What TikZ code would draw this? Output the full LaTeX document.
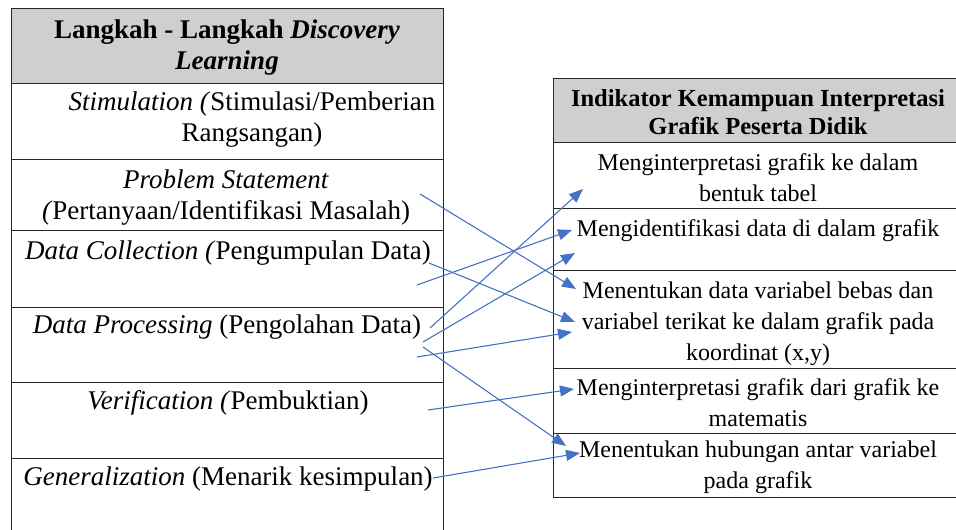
\documentclass[tikz,border=0pt]{standalone}
\usepackage{fontspec}
\setmainfont{Liberation Serif}
\usepackage{xcolor}
\usetikzlibrary{arrows.meta}
\definecolor{headgrey}{HTML}{D0CECE}
\definecolor{linkblue}{HTML}{4472C4}
\tikzset{
  lcell/.style={draw=black!85, line width=0.9pt, inner sep=0pt, minimum width=432pt},
  rcell/.style={draw=black!85, line width=0.9pt, inner sep=0pt, minimum width=410pt},
  ltext/.style={align=center, inner sep=0pt, font=\fontsize{27}{31}\selectfont},
  rtext/.style={align=center, inner sep=0pt, font=\fontsize{24}{31}\selectfont},
  rhtext/.style={align=center, inner sep=0pt, font=\fontsize{24.5}{28}\selectfont\bfseries},
  link/.style={linkblue, line width=1.1pt, -{Triangle[length=14pt,width=11pt]}}
}

\begin{document}
\begin{tikzpicture}[x=1pt,y=-1pt]
  \path[use as bounding box, clip] (0,0) rectangle (956,530);

  % left table: steps
  \node[lcell, fill=headgrey, minimum height=75pt] (lhead) at (227,45.5) {};
  \node[lcell, minimum height=76pt] (lstim) at (227,121) {};
  \node[lcell, minimum height=71pt] (lprob) at (227,194.5) {};
  \node[lcell, minimum height=77pt] (lcoll) at (227,268.5) {};
  \node[lcell, minimum height=75pt] (lproc) at (227,344.5) {};
  \node[lcell, minimum height=76pt] (lver) at (227,420) {};
  \node[lcell, minimum height=87pt] (lgen) at (227,501.5) {};

  \node[ltext, font=\fontsize{27}{31}\selectfont\bfseries] (thead) at (227,47.5)
    {Langkah - Langkah \textit{Discovery}\\\textit{Learning}};
  \node[ltext] (tstim) at (252,120) {\textit{Stimulation (}Stimulasi/Pemberian\\Rangsangan)};
  \node[ltext] (tprob) at (226,197.5) {\textit{Problem Statement}\\\textit{(}Pertanyaan/Identifikasi Masalah)};
  \node[ltext] (tcoll) at (228,253) {\textit{Data Collection (}Pengumpulan Data)};
  \node[ltext] (tproc) at (227,327) {\textit{Data Processing} (Pengolahan Data)};
  \node[ltext] (tver) at (228,403) {\textit{Verification (}Pembuktian)};
  \node[ltext] (tgen) at (228,479) {\textit{Generalization} (Menarik kesimpulan)};

  % right table: indicators
  \node[rcell, fill=headgrey, minimum height=64pt] (rhead) at (758,110) {};
  \node[rcell, minimum height=66pt] (rone) at (758,175) {};
  \node[rcell, minimum height=62pt] (rtwo) at (758,239) {};
  \node[rcell, minimum height=98pt] (rthree) at (758,319) {};
  \node[rcell, minimum height=65pt] (rfour) at (758,400.5) {};
  \node[rcell, minimum height=64pt] (rfive) at (758,465) {};

  \node[rhtext] (ihead) at (758,112) {Indikator Kemampuan Interpretasi\\Grafik Peserta Didik};
  \node[rtext] (ione) at (758,178) {Menginterpretasi grafik ke dalam\\bentuk tabel};
  \node[rtext] (itwo) at (758,231) {Mengidentifikasi data di dalam grafik};
  \node[rtext] (ithree) at (758,324) {Menentukan data variabel bebas dan\\variabel terikat ke dalam grafik pada\\koordinat (x,y)};
  \node[rtext] (ifour) at (758,402.5) {Menginterpretasi grafik dari grafik ke\\matematis};
  \node[rtext] (ifive) at (758,467.5) {Menentukan hubungan antar variabel\\pada grafik};

  % link ends
  \coordinate (sprob) at (420,194);
  \coordinate (scollA) at (429,263);
  \coordinate (scollB) at (417,285);
  \coordinate (sprocA) at (430,328);
  \coordinate (sprocB) at (423,342);
  \coordinate (sprocC) at (417,357);
  \coordinate (sprocD) at (423,347);
  \coordinate (sver) at (428,410);
  \coordinate (sgen) at (433,478);

  \coordinate (eone) at (583,189);
  \coordinate (etwoA) at (572,230);
  \coordinate (etwoB) at (575,253);
  \coordinate (ethreeA) at (576,289);
  \coordinate (ethreeB) at (575,322);
  \coordinate (ethreeC) at (572,332);
  \coordinate (efour) at (574,389);
  \coordinate (efiveA) at (566,446);
  \coordinate (efiveB) at (580,453);

  \draw[link] (sprob) -- (ethreeA);
  \draw[link] (scollA) -- (ethreeB);
  \draw[link] (scollB) -- (etwoA);
  \draw[link] (sprocA) -- (eone);
  \draw[link] (sprocB) -- (etwoB);
  \draw[link] (sprocC) -- (ethreeC);
  \draw[link] (sprocD) -- (efiveA);
  \draw[link] (sver) -- (efour);
  \draw[link] (sgen) -- (efiveB);
\end{tikzpicture}
\end{document}
